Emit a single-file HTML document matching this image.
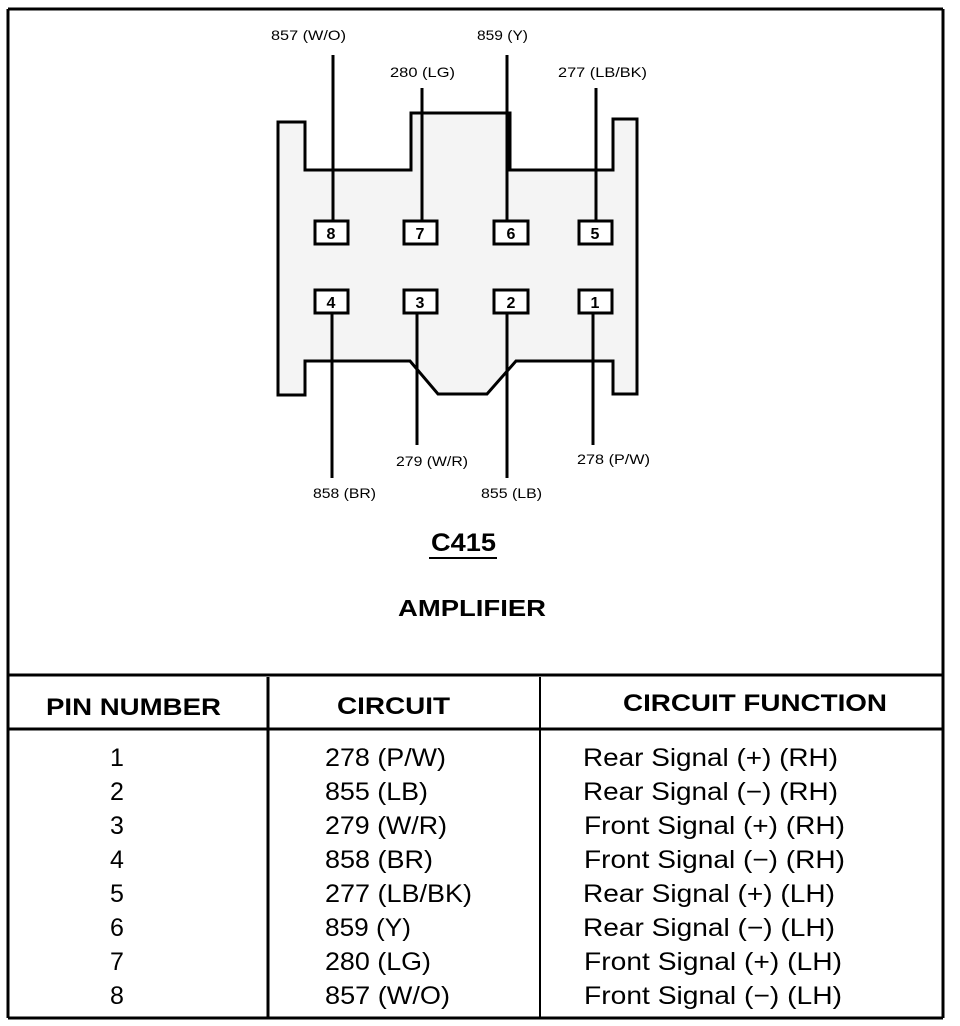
<!DOCTYPE html>
<html><head><style>
body{margin:0;background:#fff;width:960px;height:1026px;overflow:hidden;font-family:"Liberation Sans",Arial,sans-serif;}
svg{display:block}
</style></head><body>
<svg width="960" height="1026" viewBox="0 0 960 1026" xmlns="http://www.w3.org/2000/svg" font-family="Liberation Sans, Arial, sans-serif">
<rect x="0" y="0" width="960" height="1026" fill="#fff"/>
<path d="M8 9 H943 M8 9 V1018 M943 9 V1018 M8 1018 H943" stroke="#000" stroke-width="3" fill="none"/>
<line x1="8" y1="675" x2="943" y2="675" stroke="#000" stroke-width="3"/>
<line x1="8" y1="729" x2="943" y2="729" stroke="#000" stroke-width="3"/>
<line x1="268" y1="677" x2="268" y2="1018" stroke="#000" stroke-width="3"/>
<line x1="540" y1="677" x2="540" y2="1018" stroke="#000" stroke-width="2"/>
<path d="M278 122 H305 V170 H411 V113 H510 V170 H613 V119 H637 V394 H613 V361 H516 L487 394 H438 L410 361 H305 V395 H278 Z" fill="#f4f4f4" stroke="#000" stroke-width="3"/>
<g stroke="#000" stroke-width="3" fill="none">
<line x1="333" y1="55" x2="333" y2="221"/>
<line x1="422" y1="88" x2="422" y2="221"/>
<line x1="507" y1="55" x2="507" y2="221"/>
<line x1="596" y1="88" x2="596" y2="221"/>
<line x1="332" y1="314" x2="332" y2="478"/>
<line x1="417" y1="314" x2="417" y2="445"/>
<line x1="507" y1="314" x2="507" y2="478"/>
<line x1="593" y1="314" x2="593" y2="445"/>
</g>
<g stroke="#000" stroke-width="3" fill="#fff">
<rect x="315" y="221" width="33" height="23"/>
<rect x="404" y="221" width="33" height="23"/>
<rect x="494" y="221" width="34" height="23"/>
<rect x="579" y="221" width="33" height="23"/>
<rect x="315" y="290" width="33" height="23"/>
<rect x="404" y="290" width="33" height="23"/>
<rect x="494" y="290" width="34" height="23"/>
<rect x="579" y="290" width="33" height="23"/>
</g>
<g font-size="16" font-weight="bold" text-anchor="middle">
<text x="331" y="239">8</text><text x="420" y="239">7</text><text x="511" y="239">6</text><text x="595" y="239">5</text>
<text x="331" y="308">4</text><text x="420" y="308">3</text><text x="511" y="308">2</text><text x="595" y="308">1</text>
</g>
<g font-size="14">
<text x="271" y="40" textLength="75" lengthAdjust="spacingAndGlyphs">857 (W/O)</text>
<text x="477" y="40" textLength="51" lengthAdjust="spacingAndGlyphs">859 (Y)</text>
<text x="390" y="77" textLength="65" lengthAdjust="spacingAndGlyphs">280 (LG)</text>
<text x="558" y="77" textLength="89" lengthAdjust="spacingAndGlyphs">277 (LB/BK)</text>
<text x="396" y="466" textLength="72" lengthAdjust="spacingAndGlyphs">279 (W/R)</text>
<text x="577" y="464" textLength="73" lengthAdjust="spacingAndGlyphs">278 (P/W)</text>
<text x="313" y="498" textLength="63" lengthAdjust="spacingAndGlyphs">858 (BR)</text>
<text x="481" y="498" textLength="61" lengthAdjust="spacingAndGlyphs">855 (LB)</text>
</g>
<text x="431" y="551" font-size="25" font-weight="bold" textLength="65" lengthAdjust="spacingAndGlyphs">C415</text>
<line x1="429" y1="558" x2="497" y2="558" stroke="#000" stroke-width="2"/>
<text x="398" y="616" font-size="23" font-weight="bold" textLength="148" lengthAdjust="spacingAndGlyphs">AMPLIFIER</text>
<g font-size="24" font-weight="bold">
<text x="46" y="715" textLength="175" lengthAdjust="spacingAndGlyphs">PIN NUMBER</text>
<text x="337" y="714" textLength="113" lengthAdjust="spacingAndGlyphs">CIRCUIT</text>
<text x="623" y="711" textLength="264" lengthAdjust="spacingAndGlyphs">CIRCUIT FUNCTION</text>
</g>
<g font-size="25">
<g text-anchor="middle">
<text x="117" y="766">1</text><text x="117" y="800">2</text><text x="117" y="834">3</text><text x="117" y="868">4</text>
<text x="117" y="902">5</text><text x="117" y="936">6</text><text x="117" y="970">7</text><text x="117" y="1004">8</text>
</g>
<text x="325" y="766" textLength="121" lengthAdjust="spacingAndGlyphs">278 (P/W)</text>
<text x="325" y="800" textLength="103" lengthAdjust="spacingAndGlyphs">855 (LB)</text>
<text x="325" y="834" textLength="122" lengthAdjust="spacingAndGlyphs">279 (W/R)</text>
<text x="325" y="868" textLength="108" lengthAdjust="spacingAndGlyphs">858 (BR)</text>
<text x="325" y="902" textLength="147" lengthAdjust="spacingAndGlyphs">277 (LB/BK)</text>
<text x="325" y="936" textLength="86" lengthAdjust="spacingAndGlyphs">859 (Y)</text>
<text x="325" y="970" textLength="106" lengthAdjust="spacingAndGlyphs">280 (LG)</text>
<text x="325" y="1004" textLength="125" lengthAdjust="spacingAndGlyphs">857 (W/O)</text>
<text x="583" y="766" textLength="255" lengthAdjust="spacingAndGlyphs">Rear Signal (+) (RH)</text>
<text x="583" y="800" textLength="255" lengthAdjust="spacingAndGlyphs">Rear Signal (−) (RH)</text>
<text x="584" y="834" textLength="261" lengthAdjust="spacingAndGlyphs">Front Signal (+) (RH)</text>
<text x="584" y="868" textLength="261" lengthAdjust="spacingAndGlyphs">Front Signal (−) (RH)</text>
<text x="583" y="902" textLength="252" lengthAdjust="spacingAndGlyphs">Rear Signal (+) (LH)</text>
<text x="583" y="936" textLength="252" lengthAdjust="spacingAndGlyphs">Rear Signal (−) (LH)</text>
<text x="584" y="970" textLength="258" lengthAdjust="spacingAndGlyphs">Front Signal (+) (LH)</text>
<text x="584" y="1004" textLength="258" lengthAdjust="spacingAndGlyphs">Front Signal (−) (LH)</text>
</g>
</svg>
</body></html>
